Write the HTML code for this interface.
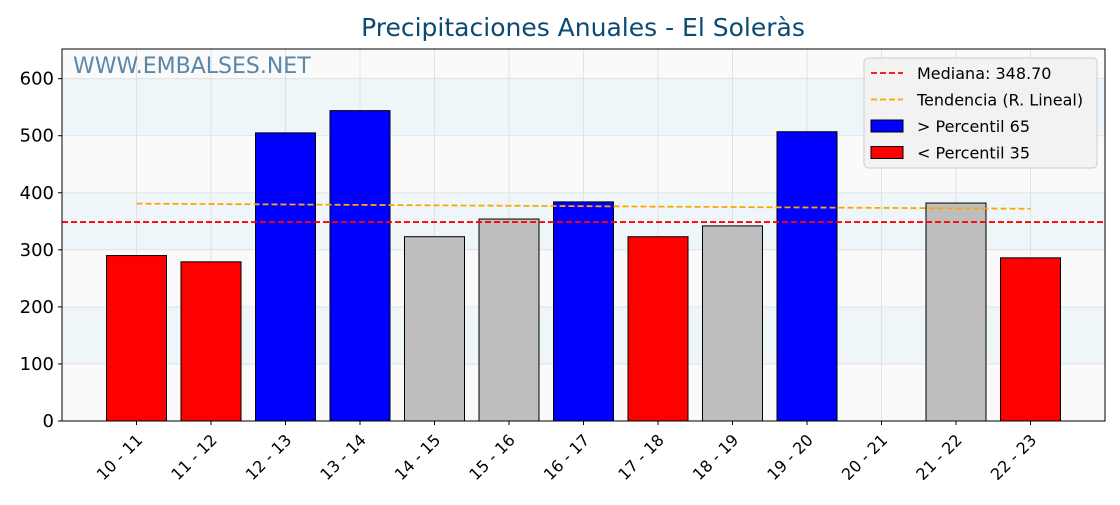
<!DOCTYPE html>
<html><head><meta charset="utf-8"><style>
body{margin:0;background:#fff;font-family:"Liberation Sans","DejaVu Sans",sans-serif}
svg text{font-family:"DejaVu Sans","Liberation Sans",sans-serif}
</style></head><body>
<svg id="c" width="1120" height="500"></svg>
<script>
const categories=["10 - 11","11 - 12","12 - 13","13 - 14","14 - 15","15 - 16","16 - 17","17 - 18","18 - 19","19 - 20","20 - 21","21 - 22","22 - 23"];
const values=[290,279,505,544,323,354,384,323,342,507,0,382,286];
const colors=["red","red","blue","blue","#bebebe","#bebebe","blue","red","#bebebe","blue","#bebebe","#bebebe","red"];
const yTicks=[0,100,200,300,400,500,600];
const median=348.7;
const trendStart=381, trendEnd=372;
const L=62,R=1105,T=49,B=421,ymax=652;
const x=i=>L+(i+1)/14*(R-L);
const y=v=>B-v/ymax*(B-T);
const NS="http://www.w3.org/2000/svg";
const svg=document.getElementById('c');
function mk(t,a,p){const e=document.createElementNS(NS,t);for(const k in a)e.setAttribute(k,a[k]);(p||svg).appendChild(e);return e;}
for(let v=0;v<ymax;v+=100){
 const top=Math.min(v+100,ymax);
 const r=mk('rect',{x:L,y:y(top),width:R-L,height:y(v)-y(top),fill:(v/100)%2==1?'#eef6f9':'#fafafa'});
 
 
}
yTicks.forEach(v=>{const g=mk('line',{x1:L,x2:R,y1:y(v),y2:y(v),stroke:'#ddd','stroke-width':0.8});

const t=mk('text',{x:L-8,y:y(v)+6,'text-anchor':'end','font-size':18,fill:'#000'});t.textContent=v;

mk('line',{x1:L-4,x2:L,y1:y(v),y2:y(v),stroke:'#000'});});
categories.forEach((c,i)=>{const g=mk('line',{x1:x(i),x2:x(i),y1:T,y2:B,stroke:'#ddd','stroke-width':0.8});
});
const w=mk('text',{x:73,y:73,'font-size':22,fill:'#5a86a8'});w.textContent='WWW.EMBALSES.NET';

categories.forEach((c,i)=>{
 if(values[i]>0){const b=mk('rect',{x:x(i)-30,y:y(values[i]),width:60,height:y(0)-y(values[i]),fill:colors[i],stroke:'#000','stroke-width':1});
 }
 mk('line',{x1:x(i),x2:x(i),y1:B,y2:B+4,stroke:'#000'});
 const t=mk('text',{x:0,y:0,'font-size':16,'text-anchor':'end',transform:`translate(${x(i)+7},${B+20}) rotate(-45)`});
 t.textContent=c;
});
const m=mk('line',{x1:L,x2:R,y1:y(median),y2:y(median),stroke:'red','stroke-width':1.8,'stroke-dasharray':'6,3'});

const tr=mk('line',{x1:x(0),x2:x(12),y1:y(trendStart),y2:y(trendEnd),stroke:'orange','stroke-width':1.8,'stroke-dasharray':'6,3'});

const f=mk('rect',{x:L,y:T,width:R-L,height:B-T,fill:'none',stroke:'#000','stroke-width':1});

const ti=mk('text',{x:583,y:36,'text-anchor':'middle','font-size':25,fill:'#0b4a72'});ti.textContent='Precipitaciones Anuales - El Soleràs';

const lg=mk('g',{});
mk('rect',{x:864,y:58,width:233,height:110,rx:4,fill:'#f2f2f2',stroke:'#ccc','fill-opacity':0.9},lg);
const items=[['line','red','Mediana: 348.70'],['line','orange','Tendencia (R. Lineal)'],['rect','blue',' > Percentil 65'],['rect','red',' < Percentil 35']];
items.forEach((it,k)=>{const yy=73+k*26.5;
 if(it[0]=='line')mk('line',{x1:871,x2:903,y1:yy,y2:yy,stroke:it[1],'stroke-width':1.8,'stroke-dasharray':'6,3'},lg);
 else mk('rect',{x:871,y:yy-6,width:32,height:12,fill:it[1],stroke:'#000'},lg);
 const t=mk('text',{x:917,y:yy+6,'font-size':16,'xml:space':'preserve'},lg);t.textContent=it[2];
 });
</script>
</body></html>
